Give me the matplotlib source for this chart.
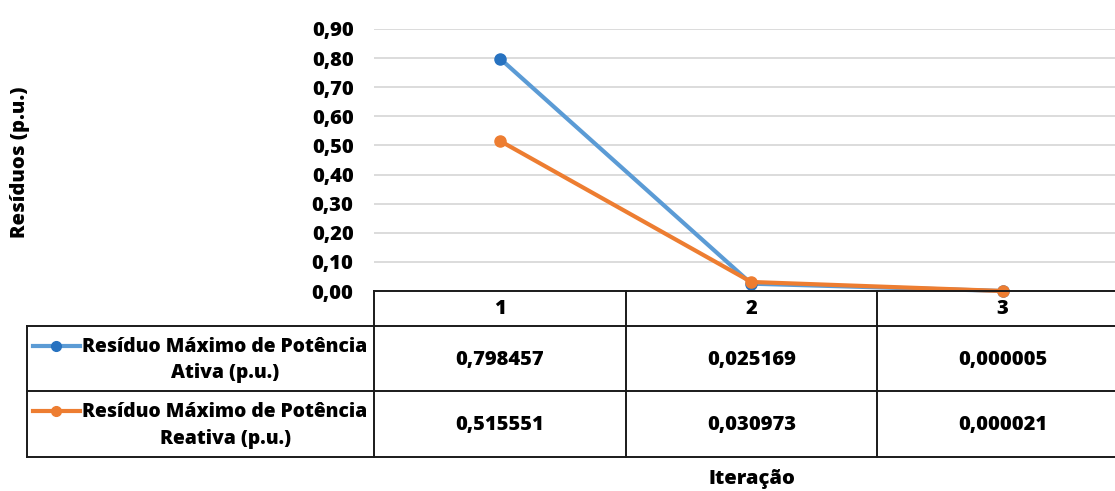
import matplotlib
matplotlib.use("Agg")
import matplotlib.pyplot as plt
from matplotlib.lines import Line2D

iteracoes = ["1", "2", "3"]
ativa = [0.798457, 0.025169, 0.000005]
reativa = [0.515551, 0.030973, 0.000021]
nomes = ["Resíduo Máximo de Potência\nAtiva (p.u.)",
         "Resíduo Máximo de Potência\nReativa (p.u.)"]
cores = ["#5B9BD5", "#ED7D31"]
cores_marker = ["#2772C0", "#ED7D31"]
yticks = [0.0, 0.1, 0.2, 0.3, 0.4, 0.5, 0.6, 0.7, 0.8, 0.9]

plt.rcParams["font.family"] = ["Open Sans", "DejaVu Sans"]

W, H = 1115, 491
fig = plt.figure(figsize=(W / 100, H / 100), dpi=100)
fs = 14.5
fw = "heavy"

# plot area in pixel coordinates (top-left origin)
x0, x1 = 374.4, 1128.3
y_top, y_zero = 29.0, 291.0
ax = fig.add_axes([x0 / W, 1 - y_zero / H, (x1 - x0) / W, (y_zero - y_top) / H])
ax.set_xlim(-0.5, len(iteracoes) - 0.5)
ax.set_ylim(0, 0.9)
ax.set_yticks(yticks)
ax.set_yticklabels([f"{v:.2f}".replace(".", ",") for v in yticks], fontsize=fs, fontweight=fw)
ax.set_xticks([])
ax.tick_params(axis="y", length=0, pad=15)
ax.grid(axis="y", color="#D9D9D9", linewidth=1.3)
ax.set_axisbelow(True)
for s in ax.spines.values():
    s.set_visible(False)

xs = range(len(iteracoes))
for vals, c, mc in zip([ativa, reativa], cores, cores_marker):
    ax.plot(xs, vals, color=c, linewidth=3, marker="o", markersize=8,
            markerfacecolor=mc, markeredgecolor=mc, clip_on=False, zorder=3)

# data table underneath, drawn on a full-figure overlay in pixels
tb = fig.add_axes([0, 0, 1, 1])
tb.set_xlim(0, W)
tb.set_ylim(H, 0)
tb.axis("off")
tb.patch.set_alpha(0)

row_y = [291, 326, 391, 457]
col_x = [27, x0] + [x0 + (i + 1) * (x1 - x0) / len(iteracoes) for i in range(len(iteracoes))]
lc = "#1a1a1a"
lw = 1.4
tb.add_line(Line2D([x0, W], [row_y[0], row_y[0]], color=lc, lw=lw))
for y in row_y[1:]:
    tb.add_line(Line2D([27, W], [y, y], color=lc, lw=lw))
tb.add_line(Line2D([27, 27], [row_y[1], row_y[3]], color=lc, lw=lw))
for x in col_x[1:-1]:
    tb.add_line(Line2D([x, x], [row_y[0], row_y[3]], color=lc, lw=lw))

centros = [(col_x[i + 1] + col_x[i + 2]) / 2 for i in range(len(iteracoes))]
for cx, lab in zip(centros, iteracoes):
    tb.text(cx, (row_y[0] + row_y[1]) / 2 + 1, lab, ha="center", va="center", fontsize=fs, fontweight=fw)

for r, (vals, nome, c, mc) in enumerate(zip([ativa, reativa], nomes, cores, cores_marker)):
    yc = (row_y[r + 1] + row_y[r + 2]) / 2
    for cx, v in zip(centros, vals):
        tb.text(cx, yc + 1, f"{v:.6f}".replace(".", ","), ha="center", va="center",
                fontsize=fs, fontweight=fw)
    tb.text(225, yc + 1.5, nome, ha="center", va="center", fontsize=13.9,
            fontweight=fw, linespacing=1.45)
    ly = yc - 13
    tb.add_line(Line2D([33, 80], [ly, ly], color=c, lw=3))
    tb.add_line(Line2D([56], [ly], color=mc, marker="o", markersize=7, lw=0))

fig.text(20 / W, 1 - 162 / H, "Resíduos (p.u.)", rotation=90, ha="center", va="center",
         fontsize=fs, fontweight=fw)
fig.text(752 / W, 1 - 479 / H, "Iteração", ha="center", va="center",
         fontsize=fs, fontweight=fw)

fig.savefig("out.png", dpi=100)
